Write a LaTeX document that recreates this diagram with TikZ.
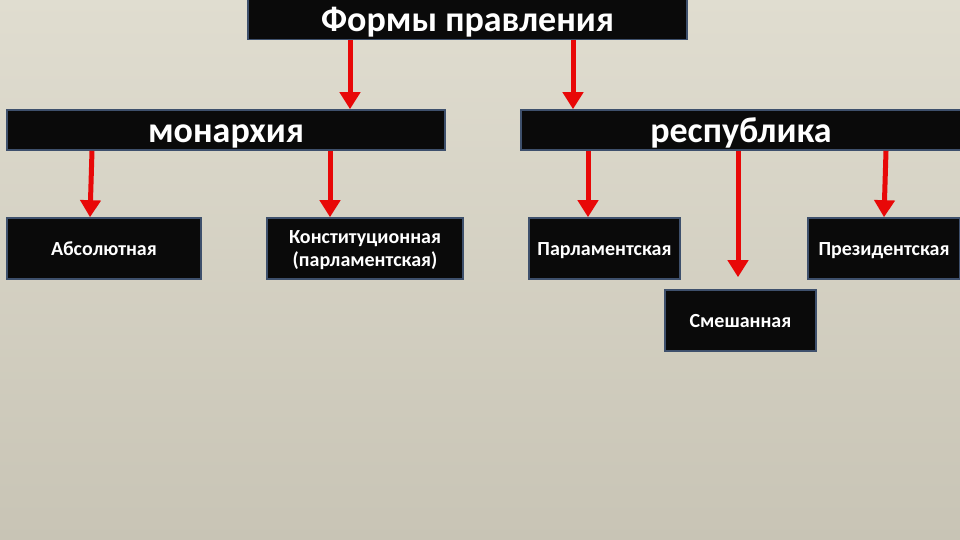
\documentclass[tikz,border=0pt]{standalone}
\usepackage{fontspec}
\setmainfont{Carlito}
\usetikzlibrary{arrows.meta,calc}
\definecolor{bgtop}{RGB}{224,221,208}
\definecolor{bgbot}{RGB}{200,196,181}
\definecolor{boxfill}{RGB}{10,10,10}
\definecolor{boxline}{RGB}{62,80,108}
\definecolor{arrred}{RGB}{232,8,8}
\tikzset{
  box/.style={draw=boxline, line width=1.6pt, fill=boxfill, text=white, inner sep=0pt, font=\bfseries},
  bigbox/.style={box, font=\bfseries\fontsize{36}{38}\selectfont, text height=25pt, text depth=0pt},
  smallbox/.style={box, font=\bfseries\fontsize{20}{23.5}\selectfont, align=center, text height=14pt, text depth=0pt},
  redarrow/.style={draw=arrred, line width=5pt, -{Triangle[width=20pt,length=17pt]}}
}
\begin{document}
\begin{tikzpicture}[x=1pt,y=-1pt]
\useasboundingbox (0,0) rectangle (960,540);
\shade[top color=bgtop, bottom color=bgbot] (0,0) rectangle (960,540);
% big boxes
\node[bigbox, minimum width=439pt, minimum height=40pt] (top) at (467.5,19.5) {Формы правления};
\node[bigbox, minimum width=438pt, minimum height=40pt] (mon) at (226,130) {монархия};
\node[bigbox, minimum width=440pt, minimum height=40pt] (rep) at (741,130) {республика};
% small boxes
\node[smallbox, minimum width=194pt, minimum height=61pt] (abs) at (104,248.5) {Абсолютная};
\node[smallbox, minimum width=196pt, minimum height=61pt, text height=36pt, text depth=0pt] (con) at (365,248.5) {Конституционная\\(парламентская)};
\node[smallbox, minimum width=151pt, minimum height=61pt] (par) at (604.5,248.5) {Парламентская};
\node[smallbox, minimum width=152pt, minimum height=61pt] (pre) at (884,248.5) {Президентская};
\node[smallbox, minimum width=151pt, minimum height=61pt] (mix) at (740.5,320.5) {Смешанная};
\coordinate (mixtip) at ($(mix.north -| 738,0)+(0,-12)$);
% arrows
\draw[redarrow] (top.south -| 350,0) -- (mon.north -| 350,0);
\draw[redarrow] (top.south -| 573,0) -- (rep.north -| 573,0);
\draw[redarrow] (mon.south -| 92,0) -- (abs.north -| 90,0);
\draw[redarrow] (mon.south -| 330,0) -- (con.north -| 330,0);
\draw[redarrow] (rep.south -| 588,0) -- (par.north -| 588,0);
\draw[redarrow] (rep.south -| 738,0) -- (mixtip);
\draw[redarrow] (rep.south -| 886,0) -- (pre.north -| 884,0);
\end{tikzpicture}
\end{document}
